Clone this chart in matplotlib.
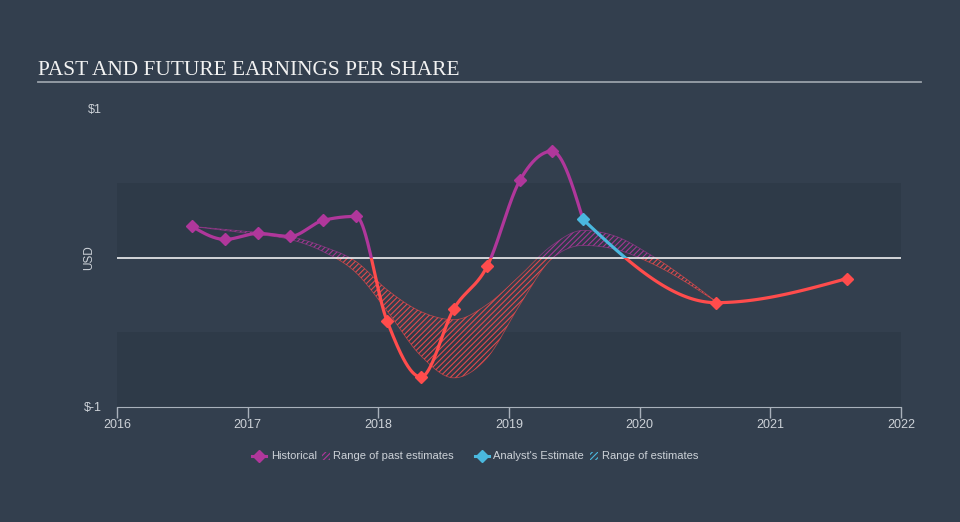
import numpy as np
import matplotlib
matplotlib.use("Agg")
import matplotlib.pyplot as plt
from matplotlib.patches import Rectangle
from matplotlib.lines import Line2D

# ---- data (decimal years, EPS in USD) ----
hist_dates = [2016.574, 2016.827, 2017.079, 2017.324, 2017.577, 2017.829, 2018.066,
              2018.326, 2018.579, 2018.832, 2019.084, 2019.329, 2019.566]
hist_eps = [0.208, 0.121, 0.161, 0.141, 0.248, 0.275, -0.423,
            -0.799, -0.342, -0.060, 0.517, 0.711, 0.255]

fc_dates = [2019.566, 2020.584, 2021.585]
fc_eps = [0.255, -0.302, -0.141]

band_dates = [2016.574, 2016.827, 2017.079, 2017.324, 2017.577, 2017.829, 2018.066, 2018.326,
              2018.579, 2018.832, 2019.084, 2019.329, 2019.566, 2019.819, 2020.079, 2020.584]
band_high = [0.208, 0.188, 0.168, 0.141, 0.074, -0.027, -0.215, -0.362,
             -0.416, -0.315, -0.121, 0.081, 0.181, 0.141, 0.020, -0.295]
band_low = [0.208, 0.181, 0.154, 0.121, 0.040, -0.101, -0.356, -0.658,
            -0.805, -0.671, -0.315, -0.007, 0.081, 0.054, -0.034, -0.295]

years = [2016, 2017, 2018, 2019, 2020, 2021, 2022]

BG = "#333f4e"
DARK = "#2e3a48"
PURPLE = "#b0379b"
RED = "#ff4c4c"
CYAN = "#4ab8de"
TXT = "#cdd2d8"


def monotone(x, y, per=60):
    # monotone cubic (like d3 curveMonotoneX) for drawing smooth lines
    x = np.asarray(x, float)
    y = np.asarray(y, float)
    h = np.diff(x)
    d = np.diff(y) / h
    n = len(x)
    m = np.zeros(n)
    for k in range(1, n - 1):
        s0, s1 = d[k - 1], d[k]
        p = (s0 * h[k] + s1 * h[k - 1]) / (h[k - 1] + h[k])
        m[k] = (np.sign(s0) + np.sign(s1)) * min(abs(s0), abs(s1), 0.5 * abs(p))
    if n > 2:
        m[0] = (3 * d[0] - m[1]) / 2
        m[-1] = (3 * d[-1] - m[-2]) / 2
    else:
        m[:] = d[0]
    xs, ys = [], []
    for k in range(n - 1):
        t = np.linspace(0, 1, per, endpoint=(k == n - 2))
        h00 = 2 * t**3 - 3 * t**2 + 1
        h10 = t**3 - 2 * t**2 + t
        h01 = -2 * t**3 + 3 * t**2
        h11 = t**3 - t**2
        xs.append(x[k] + t * h[k])
        ys.append(h00 * y[k] + h10 * h[k] * m[k] + h01 * y[k + 1] + h11 * h[k] * m[k + 1])
    return np.concatenate(xs), np.concatenate(ys)


def sign_line(ax, x, y, pos_color, neg_color, lw=2.3):
    for col, y0 in [(pos_color, 0), (neg_color, -10)]:
        ln, = ax.plot(x, y, color=col, lw=lw, solid_capstyle="round", zorder=4)
        ln.set_clip_path(Rectangle((2000, y0), 50, 10, transform=ax.transData))


plt.rcParams["hatch.linewidth"] = 0.8
fig = plt.figure(figsize=(9.6, 5.22), dpi=100, facecolor=BG)
ax = fig.add_axes([117 / 960, 1 - 407 / 522, 784 / 960, 299 / 522])
ax.set_facecolor(BG)
ax.set_xlim(2016, 2022)
ax.set_ylim(-1, 1)

ax.axhspan(0, 0.5, color=DARK, lw=0, zorder=0)
ax.axhspan(-1, -0.5, color=DARK, lw=0, zorder=0)

# range of past estimates, hatched, coloured by sign
bx, bh = monotone(band_dates, band_high)
_, bl = monotone(band_dates, band_low)
ax.fill_between(bx, np.maximum(bh, 0), np.maximum(bl, 0), facecolor="none",
                edgecolor=PURPLE, hatch="//////", lw=0, alpha=0.9, zorder=2)
ax.fill_between(bx, np.minimum(bh, 0), np.minimum(bl, 0), facecolor="none",
                edgecolor=RED, hatch="//////", lw=0, alpha=0.85, zorder=2)
for edge in (bh, bl):
    for col, y0 in [(PURPLE, 0), (RED, -10)]:
        ln, = ax.plot(bx, edge, color=col, lw=0.6, alpha=0.6, zorder=2)
        ln.set_clip_path(Rectangle((2000, y0), 50, 10, transform=ax.transData))

ax.axhline(0, color="white", lw=1.1, zorder=3)

hx, hy = monotone(hist_dates, hist_eps)
sign_line(ax, hx, hy, PURPLE, RED)
fx, fy = monotone(fc_dates, fc_eps)
sign_line(ax, fx, fy, CYAN, RED)

for d, v in zip(hist_dates[:-1], hist_eps[:-1]):
    ax.plot(d, v, "D", ms=6, color=PURPLE if v >= 0 else RED, zorder=5)
ax.plot(fc_dates[0], fc_eps[0], "D", ms=6.5, color=CYAN, zorder=5)
for d, v in zip(fc_dates[1:], fc_eps[1:]):
    ax.plot(d, v, "D", ms=6, color=RED, zorder=5)

for s in ["top", "right", "left"]:
    ax.spines[s].set_visible(False)
ax.spines["bottom"].set_color("#a9b1bb")
ax.set_xticks(years)
ax.set_xticklabels([str(y) for y in years])
ax.set_yticks([-1, 1])
ax.set_yticklabels(["$-1", "$1"])
ax.tick_params(axis="x", colors="#a9b1bb", labelcolor=TXT, length=8, width=1,
               direction="out", pad=1, labelsize=9)
ax.tick_params(axis="y", length=0, pad=11, labelcolor=TXT, labelsize=9)
for lab in ax.get_xticklabels() + ax.get_yticklabels():
    lab.set_fontfamily("Liberation Sans")
ax.text(-0.036, 0.5, "USD", transform=ax.transAxes, rotation=90, ha="center",
        va="center", color=TXT, fontsize=8.5, family="Liberation Sans")

# title and rule
fig.text(38 / 960, 1 - 75 / 522, "PAST AND FUTURE EARNINGS PER SHARE", color="#f2f2f2",
         fontsize=15.4, family="Liberation Serif", va="baseline")
fig.add_artist(Line2D([38 / 960, 921 / 960], [1 - 82 / 522] * 2, color="#9aa1a9", lw=1.3))

# legend
ly = 1 - 456 / 522


def fx_(px):
    return px / 960


def leg_marker(cx, col):
    fig.add_artist(Line2D([fx_(cx - 7), fx_(cx + 7)], [ly, ly], color=col, lw=2.2))
    fig.add_artist(Line2D([fx_(cx)], [ly], marker="D", ms=6.5, color=col))


def leg_hatch(x0, col):
    fig.add_artist(Rectangle((fx_(x0), ly - 4 / 522), 8 / 960, 8 / 522, facecolor="none",
                             edgecolor=col, hatch="//////", lw=0, transform=fig.transFigure))


leg_kw = dict(color=TXT, fontsize=8, family="Liberation Sans", va="center")
leg_marker(259, PURPLE)
fig.text(fx_(271), ly, "Historical", **leg_kw)
leg_hatch(322, PURPLE)
fig.text(fx_(333), ly, "Range of past estimates", **leg_kw)
leg_marker(482, CYAN)
fig.text(fx_(493), ly, "Analyst's Estimate", **leg_kw)
leg_hatch(590, CYAN)
fig.text(fx_(602), ly, "Range of estimates", **leg_kw)

fig.savefig("out.png", dpi=100, facecolor=BG)
